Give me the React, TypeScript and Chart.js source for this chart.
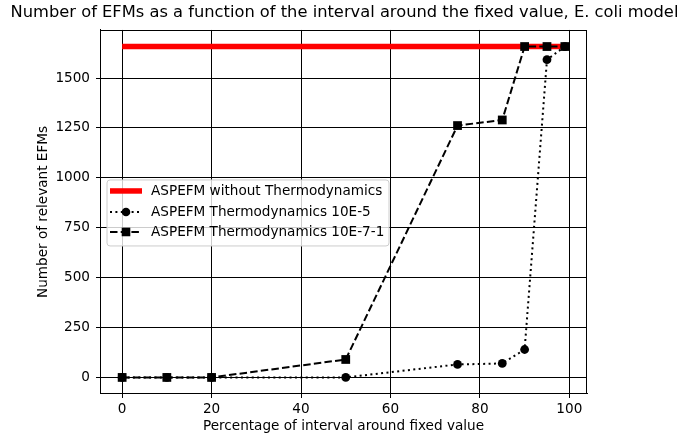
import React, { useEffect, useRef } from "react";
import { Chart, registerables } from "chart.js";

Chart.register(...registerables);

const titleText = "Number of EFMs as a function of the interval around the fixed value, E. coli model";
const xAxisTitle = "Percentage of interval around fixed value";
const yAxisTitle = "Number of relevant EFMs";

const intervals = [0, 10, 20, 50, 75, 85, 90, 95, 99];
const withoutThermo = [1658, 1658, 1658, 1658, 1658, 1658, 1658, 1658, 1658];
const thermo5 = [0, 0, 0, 0, 65, 70, 140, 1592, 1658];
const thermo71 = [0, 0, 0, 90, 1262, 1290, 1658, 1658, 1658];

const seriesLabels = [
  "ASPEFM without Thermodynamics",
  "ASPEFM Thermodynamics 10E-5",
  "ASPEFM Thermodynamics 10E-7-1",
];

const xTicks = [0, 20, 40, 60, 80, 100];
const yTicks = [0, 250, 500, 750, 1000, 1250, 1500];

const FONT = "'DejaVu Sans', sans-serif";
const FS = 13.6;
const DOT = [2, 3.4];
const DASH = [7.5, 3.2];

const framePlugin = {
  id: "frame",
  afterDatasetsDraw(chart: any) {
    const { ctx, chartArea } = chart;
    ctx.save();
    ctx.strokeStyle = "#000";
    ctx.lineWidth = 1;
    ctx.strokeRect(
      Math.round(chartArea.left) + 0.5,
      Math.round(chartArea.top) + 0.5,
      Math.round(chartArea.right - chartArea.left) - 1,
      Math.round(chartArea.bottom - chartArea.top) - 1
    );
    ctx.restore();
  },
};

const legendPlugin = {
  id: "mplLegend",
  afterDraw(chart: any) {
    const { ctx, chartArea } = chart;
    const x0 = chartArea.left + 7;
    const y0 = chartArea.top + 150;
    const w = 282;
    const h = 66;
    ctx.save();
    ctx.beginPath();
    const r = 3;
    ctx.moveTo(x0 + r, y0);
    ctx.lineTo(x0 + w - r, y0);
    ctx.quadraticCurveTo(x0 + w, y0, x0 + w, y0 + r);
    ctx.lineTo(x0 + w, y0 + h - r);
    ctx.quadraticCurveTo(x0 + w, y0 + h, x0 + w - r, y0 + h);
    ctx.lineTo(x0 + r, y0 + h);
    ctx.quadraticCurveTo(x0, y0 + h, x0, y0 + h - r);
    ctx.lineTo(x0, y0 + r);
    ctx.quadraticCurveTo(x0, y0, x0 + r, y0);
    ctx.closePath();
    ctx.fillStyle = "rgba(255,255,255,0.8)";
    ctx.fill();
    ctx.strokeStyle = "#cccccc";
    ctx.lineWidth = 1;
    ctx.stroke();

    const hx0 = x0 + 3;
    const hx1 = x0 + 35;
    const hmid = (hx0 + hx1) / 2;
    const rows = [y0 + 11, y0 + 32, y0 + 52];
    ctx.font = FS + "px " + FONT;
    ctx.fillStyle = "#000";
    ctx.textBaseline = "middle";
    ctx.textAlign = "left";
    rows.forEach((ry, i) => {
      ctx.save();
      if (i === 0) {
        ctx.strokeStyle = "#ff0000";
        ctx.lineWidth = 5.5;
        ctx.beginPath();
        ctx.moveTo(hx0, ry);
        ctx.lineTo(hx1, ry);
        ctx.stroke();
      } else if (i === 1) {
        ctx.strokeStyle = "#000";
        ctx.lineWidth = 2;
        ctx.setLineDash(DOT);
        ctx.beginPath();
        ctx.moveTo(hx0, ry);
        ctx.lineTo(hx1, ry);
        ctx.stroke();
        ctx.setLineDash([]);
        ctx.beginPath();
        ctx.arc(hmid, ry, 4.3, 0, Math.PI * 2);
        ctx.fillStyle = "#000";
        ctx.fill();
      } else {
        ctx.strokeStyle = "#000";
        ctx.lineWidth = 2;
        ctx.setLineDash(DASH);
        ctx.beginPath();
        ctx.moveTo(hx0, ry);
        ctx.lineTo(hx1, ry);
        ctx.stroke();
        ctx.setLineDash([]);
        ctx.fillStyle = "#000";
        ctx.fillRect(hmid - 4.3, ry - 4.3, 8.6, 8.6);
      }
      ctx.restore();
      ctx.fillText(seriesLabels[i], x0 + 44, ry + 0.5);
    });
    ctx.restore();
  },
};

export default function App() {
  const ref = useRef<HTMLCanvasElement | null>(null);

  useEffect(() => {
    if (!ref.current) return;
    const chart = new Chart(ref.current, {
      type: "line",
      data: {
        datasets: [
          {
            label: seriesLabels[0],
            data: intervals.map((x, i) => ({ x, y: withoutThermo[i] })),
            borderColor: "#ff0000",
            backgroundColor: "#ff0000",
            borderWidth: 5.5,
            pointRadius: 0,
            order: 2,
          },
          {
            label: seriesLabels[1],
            data: intervals.map((x, i) => ({ x, y: thermo5[i] })),
            borderColor: "#000",
            backgroundColor: "#000",
            borderWidth: 2,
            borderDash: DOT,
            pointStyle: "circle",
            pointRadius: 4.4,
            pointBorderWidth: 0,
            order: 1,
          },
          {
            label: seriesLabels[2],
            data: intervals.map((x, i) => ({ x, y: thermo71[i] })),
            borderColor: "#000",
            backgroundColor: "#000",
            borderWidth: 2,
            borderDash: DASH,
            pointStyle: "rect",
            pointRadius: 6.2,
            pointBorderWidth: 0,
            order: 0,
          },
        ],
      },
      options: {
        animation: false,
        responsive: false,
        maintainAspectRatio: false,
        layout: { padding: { left: 8, right: 0, top: 0, bottom: 0 } },
        plugins: {
          legend: { display: false },
          tooltip: { enabled: false },
          title: {
            display: true,
            text: titleText,
            color: "#000",
            font: { family: FONT, size: 16.3, weight: "normal" },
            padding: { top: 3, bottom: 7.4 },
          },
        },
        scales: {
          x: {
            type: "linear",
            min: -4.95,
            max: 103.95,
            afterBuildTicks: (s: any) => {
              s.ticks = xTicks.map((v) => ({ value: v }));
            },
            afterFit: (s: any) => {
              s.height = 41;
            },
            ticks: {
              color: "#000",
              font: { family: FONT, size: FS },
              padding: 3,
              maxRotation: 0,
              callback: (v: any) => String(v),
            },
            grid: { color: "#000", lineWidth: 1, tickLength: 4, drawTicks: true },
            border: { display: true, color: "#000", width: 1 },
            title: {
              display: true,
              text: xAxisTitle,
              color: "#000",
              font: { family: FONT, size: FS },
              padding: { top: 0, bottom: 0.5 },
            },
          },
          y: {
            type: "linear",
            min: -83,
            max: 1741,
            afterBuildTicks: (s: any) => {
              s.ticks = yTicks.map((v) => ({ value: v }));
            },
            afterFit: (s: any) => {
              s.width = 92;
            },
            ticks: {
              color: "#000",
              font: { family: FONT, size: FS },
              padding: 6,
              callback: (v: any) => String(v),
            },
            grid: { color: "#000", lineWidth: 1, tickLength: 4, drawTicks: true },
            border: { display: true, color: "#000", width: 1 },
            title: {
              display: true,
              text: yAxisTitle,
              color: "#000",
              font: { family: FONT, size: FS },
              padding: { top: 27, bottom: 0 },
            },
          },
          y2: {
            type: "linear",
            position: "right",
            display: true,
            afterFit: (s: any) => {
              s.width = 94;
            },
            ticks: { display: false },
            grid: { display: false },
            border: { display: false },
          },
        },
      },
      plugins: [framePlugin, legendPlugin],
    });
    return () => chart.destroy();
  }, []);

  return (
    <div style={{ position: "absolute", left: 0, top: 0, width: 681, height: 435, background: "#fff" }}>
      <canvas ref={ref} width={681} height={435} style={{ width: 681, height: 435 }} />
    </div>
  );
}
